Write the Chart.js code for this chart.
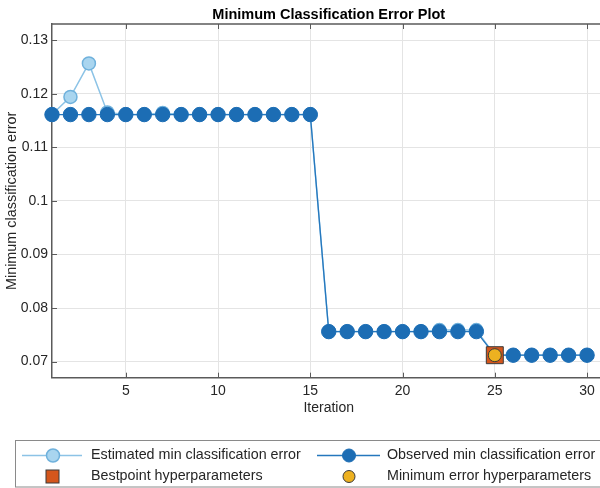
<!DOCTYPE html>
<html>
<head>
<meta charset="utf-8">
<script src="https://cdn.jsdelivr.net/npm/chart.js@4.4.1/dist/chart.umd.min.js"></script>
<style>
  html, body { margin: 0; padding: 0; overflow: hidden; background: #fff; }
  #wrap { width: 660px; height: 488px; position: relative; }
</style>
</head>
<body>
<div id="wrap"><canvas id="chart" width="660" height="488"></canvas></div>
<script>
// Iteration numbers of the optimisation run
const iterations = [1, 2, 3, 4, 5, 6, 7, 8, 9, 10, 11, 12, 13, 14, 15,
                    16, 17, 18, 19, 20, 21, 22, 23, 24, 25, 26, 27, 28, 29, 30];

// Estimated minimum classification error per iteration
const estimatedError = [0.1161, 0.1194, 0.12565, 0.1165, 0.1161, 0.1161, 0.1164, 0.1161, 0.1161, 0.1161,
                        0.1161, 0.1161, 0.1161, 0.1161, 0.1161, 0.0756, 0.0756, 0.0756, 0.0756, 0.0756,
                        0.0756, 0.0759, 0.0759, 0.0759, 0.0712, 0.0712, 0.0712, 0.0712, 0.0712, 0.0712];

// Observed minimum classification error per iteration
const observedError = [0.1161, 0.1161, 0.1161, 0.1161, 0.1161, 0.1161, 0.1161, 0.1161, 0.1161, 0.1161,
                       0.1161, 0.1161, 0.1161, 0.1161, 0.1161, 0.0756, 0.0756, 0.0756, 0.0756, 0.0756,
                       0.0756, 0.0756, 0.0756, 0.0756, 0.0712, 0.0712, 0.0712, 0.0712, 0.0712, 0.0712];

// Best point and minimum error hyperparameters
const bestPoint = [25, 0.0712];
const minErrorPoint = [25, 0.0712];

// Axis ranges and ticks
const xRange = [1, 31];
const yRange = [0.067, 0.133];
const xTicks = [5, 10, 15, 20, 25, 30];
const yTicks = [0.07, 0.08, 0.09, 0.10, 0.11, 0.12, 0.13];

const plotTitle = 'Minimum Classification Error Plot';
const seriesLabels = ['Estimated min classification error', 'Observed min classification error',
                      'Bestpoint hyperparameters', 'Minimum error hyperparameters'];

const C = {
  estLine: '#8cc3e6', estFill: '#a9d5ef', estEdge: '#6fb1dc',
  obsLine: '#2577bd', obsFill: '#1c6db4',
  bestFill: '#d4561c', minFill: '#edb120', edge: '#3a3a3a',
  axis: '#5a5a5a', grid: '#e4e4e4', text: '#262626'
};

const FONT = '"Liberation Sans", Arial, Helvetica, sans-serif';
Chart.defaults.font.family = FONT;
Chart.defaults.color = C.text;

// inward tick marks, the top box edge and the title centred over the axes
const axisDecor = {
  id: 'axisDecor',
  beforeDatasetsDraw(chart) {
    const { ctx, chartArea: a, scales: { x, y } } = chart;
    ctx.save();
    ctx.strokeStyle = C.axis;
    ctx.lineWidth = 1;
    ctx.beginPath();
    xTicks.forEach(v => {
      const px = Math.round(x.getPixelForValue(v)) + 0.5;
      ctx.moveTo(px, a.bottom); ctx.lineTo(px, a.bottom - 5);
      ctx.moveTo(px, a.top); ctx.lineTo(px, a.top + 5);
    });
    yTicks.forEach(v => {
      const py = Math.round(y.getPixelForValue(v)) + 0.5;
      ctx.moveTo(a.left, py); ctx.lineTo(a.left + 5, py);
    });
    ctx.stroke();
    ctx.lineWidth = 1.5;
    ctx.beginPath();
    ctx.moveTo(a.left, a.top); ctx.lineTo(a.right, a.top);
    ctx.stroke();

    ctx.fillStyle = '#000';
    ctx.font = 'bold 14.5px ' + FONT;
    ctx.textAlign = 'center';
    ctx.textBaseline = 'middle';
    ctx.fillText(plotTitle, (a.left + a.right) / 2, a.top - 9.5);
    ctx.restore();
  }
};

// boxed two-column legend below the axes
const boxLegend = {
  id: 'boxLegend',
  afterDraw(chart) {
    const { ctx } = chart;
    ctx.save();
    ctx.fillStyle = '#fff';
    ctx.fillRect(15, 440, 640, 47);
    ctx.strokeStyle = '#8a8a8a';
    ctx.lineWidth = 1;
    ctx.strokeRect(15.5, 440.5, 640, 46.5);

    const r1 = 455.5, r2 = 476.5;
    const circle = (cx, cy, r, fill, edge, w) => {
      ctx.beginPath(); ctx.arc(cx, cy, r, 0, Math.PI * 2);
      ctx.fillStyle = fill; ctx.fill();
      ctx.lineWidth = w; ctx.strokeStyle = edge; ctx.stroke();
    };
    const seg = (x0, x1, y, col, w) => {
      ctx.beginPath(); ctx.moveTo(x0, y); ctx.lineTo(x1, y);
      ctx.strokeStyle = col; ctx.lineWidth = w; ctx.stroke();
    };
    seg(22, 82, r1, C.estLine, 1.5);
    circle(53, r1, 6.5, C.estFill, C.estEdge, 1.5);
    seg(317, 380, r1, C.obsLine, 1.5);
    circle(349, r1, 6.5, C.obsFill, C.obsFill, 1);

    ctx.fillStyle = C.bestFill;
    ctx.fillRect(46, r2 - 6.5, 13, 13);
    ctx.strokeStyle = C.edge; ctx.lineWidth = 1;
    ctx.strokeRect(46, r2 - 6.5, 13, 13);
    circle(349, r2, 6, C.minFill, C.edge, 1);

    ctx.fillStyle = C.text;
    ctx.font = '14.3px ' + FONT;
    ctx.textBaseline = 'middle';
    ctx.textAlign = 'left';
    ctx.fillText(seriesLabels[0], 91, r1);
    ctx.fillText(seriesLabels[1], 387, r1);
    ctx.fillText(seriesLabels[2], 91, r2);
    ctx.fillText(seriesLabels[3], 387, r2);
    ctx.restore();
  }
};

const toPoints = vals => iterations.map((it, i) => ({ x: it, y: vals[i] }));

new Chart(document.getElementById('chart'), {
  type: 'line',
  data: {
    datasets: [
      {
        label: seriesLabels[3],
        data: [{ x: minErrorPoint[0], y: minErrorPoint[1] }],
        showLine: false, order: 0, clip: false,
        pointStyle: 'circle', pointRadius: 6.5, pointHoverRadius: 6.5,
        pointBackgroundColor: C.minFill, pointBorderColor: C.edge, pointBorderWidth: 1
      },
      {
        label: seriesLabels[2],
        data: [{ x: bestPoint[0], y: bestPoint[1] }],
        showLine: false, order: 1, clip: false,
        pointStyle: 'rect', pointRadius: 12, pointHoverRadius: 12,
        pointBackgroundColor: C.bestFill, pointBorderColor: C.edge, pointBorderWidth: 1
      },
      {
        label: seriesLabels[1],
        data: toPoints(observedError),
        order: 2, clip: false,
        borderColor: C.obsLine, borderWidth: 1.3, tension: 0,
        pointRadius: 7.2, pointHoverRadius: 7.2,
        pointBackgroundColor: C.obsFill, pointBorderColor: C.obsFill, pointBorderWidth: 1
      },
      {
        label: seriesLabels[0],
        data: toPoints(estimatedError),
        order: 3, clip: false,
        borderColor: C.estLine, borderWidth: 1.5, tension: 0,
        pointRadius: 6.5, pointHoverRadius: 6.5,
        pointBackgroundColor: C.estFill, pointBorderColor: C.estEdge, pointBorderWidth: 1.5
      }
    ]
  },
  options: {
    responsive: false,
    animation: false,
    devicePixelRatio: 1,
    layout: { padding: { left: 0, top: 24, right: 54.5, bottom: 0 } },
    plugins: {
      legend: { display: false },
      tooltip: { enabled: false },
      title: { display: false }
    },
    scales: {
      x: {
        type: 'linear',
        min: xRange[0], max: xRange[1],
        afterBuildTicks: s => { s.ticks = xTicks.map(v => ({ value: v })); },
        afterFit: s => { s.height = 110.3; },
        grid: { color: C.grid, drawTicks: false, lineWidth: 1 },
        border: { color: C.axis, width: 1.5 },
        ticks: { padding: 5, color: C.text, font: { size: 14 }, maxRotation: 0, autoSkip: false },
        title: { display: true, text: 'Iteration', color: C.text, font: { size: 14 },
                 padding: { top: 0, bottom: 71 } }
      },
      y: {
        type: 'linear',
        min: yRange[0], max: yRange[1],
        afterBuildTicks: s => { s.ticks = yTicks.map(v => ({ value: v })); },
        afterFit: s => { s.width = 52; },
        grid: { color: C.grid, drawTicks: false, lineWidth: 1 },
        border: { color: C.axis, width: 1.5 },
        ticks: { padding: 4, color: C.text, font: { size: 14 },
                 callback: v => String(Number(v.toFixed(2))) },
        title: { display: true, text: 'Minimum classification error', color: C.text,
                 font: { size: 14.4 }, padding: { top: 3, bottom: 0 } }
      }
    }
  },
  plugins: [axisDecor, boxLegend]
});
</script>
</body>
</html>
